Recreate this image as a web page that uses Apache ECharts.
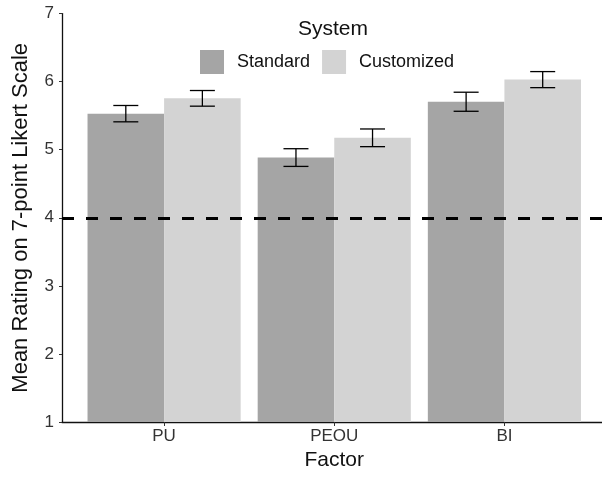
<!DOCTYPE html>
<html>
<head>
<meta charset="utf-8">
<script src="https://cdn.jsdelivr.net/npm/echarts@6/dist/echarts.min.js"></script>
<style>
html,body{margin:0;padding:0;background:#fff;}
#chart{width:602px;height:479px;}
</style>
</head>
<body>
<div id="chart"></div>
<script>
// ---- Data ----
const categories = ['PU', 'PEOU', 'BI'];
const seriesNames = ['Standard', 'Customized'];
const standardMean = [5.53, 4.885, 5.705];
const standardErr = [0.12, 0.13, 0.14];
const customizedMean = [5.755, 5.175, 6.03];
const customizedErr = [0.115, 0.13, 0.118];
const referenceLine = 4;
const yTicks = [1, 2, 3, 4, 5, 6, 7];

// ---- Build ----
const catPos = categories.map((c, i) => i + 1);
const dodge = 0.225; // half of bar width (0.45) in category units
const stdBars = catPos.map((x, i) => [x, standardMean[i]]);
const cusBars = catPos.map((x, i) => [x, customizedMean[i]]);
const errData = [];
catPos.forEach((x, i) => {
  errData.push([x - dodge, standardMean[i] - standardErr[i], standardMean[i] + standardErr[i]]);
  errData.push([x + dodge, customizedMean[i] - customizedErr[i], customizedMean[i] + customizedErr[i]]);
});

const FONT = 'Liberation Sans, Arial, Helvetica, sans-serif';
const chart = echarts.init(document.getElementById('chart'), null, {renderer: 'canvas'});

chart.setOption({
  animation: false,
  backgroundColor: '#ffffff',
  textStyle: {fontFamily: FONT},
  title: {
    text: 'System',
    left: 328, top: 14,
    textAlign: 'center',
    textStyle: {fontFamily: FONT, fontSize: 21, fontWeight: 'normal', color: '#111'}
  },
  legend: {
    data: seriesNames,
    left: 195, top: 45,
    icon: 'rect',
    itemWidth: 24, itemHeight: 24,
    itemGap: 12,
    textStyle: {fontFamily: FONT, fontSize: 18, color: '#111', padding: [0, 0, 0, 8]}
  },
  grid: {left: 62, top: 13.6, width: 544.5, height: 408.4, containLabel: false, outerBoundsMode: 'none'},
  xAxis: {
    type: 'value',
    min: 0.4, max: 3.6,
    name: 'Factor',
    nameLocation: 'middle',
    nameGap: 28,
    nameTextStyle: {fontFamily: FONT, fontSize: 21, color: '#111'},
    axisLine: {show: true, onZero: false, lineStyle: {color: '#111', width: 1.3}},
    axisTick: {show: true, length: 4, customValues: catPos, lineStyle: {color: '#333'}},
    axisLabel: {
      customValues: catPos,
      margin: 6,
      fontFamily: FONT, fontSize: 17, color: '#333',
      formatter: v => categories[Math.round(v) - 1] || ''
    },
    splitLine: {show: false}
  },
  yAxis: {
    type: 'value',
    min: 1, max: 7, interval: 1,
    name: 'Mean Rating on 7-point Likert Scale',
    nameLocation: 'middle',
    nameGap: 30,
    nameTextStyle: {fontFamily: FONT, fontSize: 22, color: '#111'},
    axisLine: {show: true, lineStyle: {color: '#111', width: 1.3}},
    axisTick: {show: true, length: 3, lineStyle: {color: '#333'}},
    axisLabel: {margin: 8, fontFamily: FONT, fontSize: 17, color: '#333',
      formatter: v => (yTicks.indexOf(v) >= 0 ? String(v) : '')},
    splitLine: {show: false}
  },
  series: [
    {
      name: seriesNames[0], type: 'bar', data: stdBars,
      barGap: '0%', barCategoryGap: '10%',
      itemStyle: {color: '#a5a5a5'},
      markLine: {
        silent: true, symbol: 'none',
        label: {show: false},
        lineStyle: {color: '#000', width: 3, type: [12, 12]},
        data: [{yAxis: referenceLine}]
      }
    },
    {
      name: seriesNames[1], type: 'bar', data: cusBars,
      barGap: '0%', barCategoryGap: '10%',
      itemStyle: {color: '#d3d3d3'}
    },
    {
      name: 'err', type: 'custom', data: errData,
      encode: {x: 0, y: [1, 2]},
      z: 5,
      renderItem: function (params, api) {
        const x = api.value(0);
        const lo = api.coord([x, api.value(1)]);
        const hi = api.coord([x, api.value(2)]);
        const hw = 12.5;
        const style = {stroke: '#000', lineWidth: 1.3};
        return {
          type: 'group',
          children: [
            {type: 'line', shape: {x1: lo[0], y1: lo[1], x2: hi[0], y2: hi[1]}, style},
            {type: 'line', shape: {x1: lo[0] - hw, y1: lo[1], x2: lo[0] + hw, y2: lo[1]}, style},
            {type: 'line', shape: {x1: hi[0] - hw, y1: hi[1], x2: hi[0] + hw, y2: hi[1]}, style}
          ]
        };
      }
    }
  ]
});
</script>
</body>
</html>
